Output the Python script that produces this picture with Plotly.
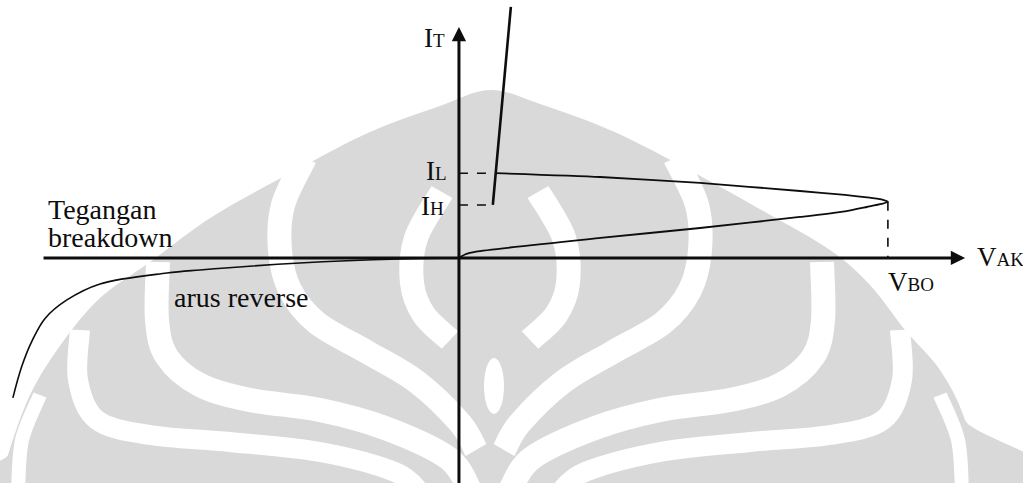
import plotly.graph_objects as go

# ---- thyristor characteristic (V in arbitrary units, I in arbitrary units) ----
V_BO = 100.0      # breakover voltage
I_L = 8.0         # latching current
I_H = 5.0         # holding current

# forward blocking: origin -> breakover
fwd_low_v = [0, 1.5, 4, 33, 56.2, 79.5, 90, 95.1, 98.5, 100]
fwd_low_i = [0, 0.35, 0.6, 1.89, 2.83, 3.87, 4.4, 4.81, 5.1, 5.3]
# negative-resistance region: breakover -> latching point
fwd_up_v = [100, 98.5, 95.1, 90, 79.5, 56.2, 32.9, 8.6]
fwd_up_i = [5.3, 5.52, 5.72, 5.95, 6.32, 7.08, 7.64, 8.0]

# on-state (conducting) branch
on_v = [7.9, 12.1]
on_i = [5.0, 23.7]

# reverse blocking with avalanche at the breakdown voltage
rev_v = [0, -13.8, -37.1, -60.4, -68.1, -83.7, -91.4, -96.5, -99.5, -101.9, -104.0]
rev_i = [0, -0.09, -0.47, -1.13, -1.42, -2.45, -3.96, -5.7, -7.8, -10.2, -13.2]

# axis extents
V_AXIS = [-97.2, 118.0]
I_AXIS = [-21.6, 21.8]
X_RANGE = [-107.0, 131.5]
Y_RANGE = [-21.23, 24.34]

W, H = 1023, 483
INK = "#0d0d0d"
WM = "#d9d9d9"
SERIF = "Liberation Serif, Times New Roman, serif"


def smooth(points, closed=False):
    """Catmull-Rom curve through pixel points, returned as an SVG path in paper units."""
    pts = [(x / W, 1 - y / H) for x, y in points]
    n = len(pts)
    if closed:
        get = lambda k: pts[k % n]
        segs = range(n)
    else:
        get = lambda k: pts[min(max(k, 0), n - 1)]
        segs = range(n - 1)
    d = "M{:.5f},{:.5f}".format(*pts[0])
    for i in segs:
        p0, p1, p2, p3 = get(i - 1), get(i), get(i + 1), get(i + 2)
        c1 = (p1[0] + (p2[0] - p0[0]) / 6, p1[1] + (p2[1] - p0[1]) / 6)
        c2 = (p2[0] - (p3[0] - p1[0]) / 6, p2[1] - (p3[1] - p1[1]) / 6)
        d += " C{:.5f},{:.5f} {:.5f},{:.5f} {:.5f},{:.5f}".format(*c1, *c2, *p2)
    if closed:
        d += " Z"
    return d


def mirror(points, axis=490):
    return [(2 * axis - x, y) for x, y in points]


# ---- background emblem (light grey, drawn beneath the curves) ----
emblem_outline = [(0, 490), (8, 455), (30, 395), (62, 343), (100, 298), (150, 262),
                  (215, 215), (300, 168), (370, 132), (440, 106), (490, 90),
                  (540, 104), (610, 130), (680, 165), (765, 212), (830, 250),
                  (870, 285), (905, 330), (940, 370), (965, 420), (980, 490)]
band_a = [(305, 158), (283, 205), (280, 250), (290, 290), (317, 323), (367, 352),
          (417, 382), (460, 423), (476, 450)]
band_ring = [(442, 192), (416, 238), (412, 283), (424, 315), (450, 340)]
band_b = [(158, 262), (157, 320), (167, 357), (200, 385), (250, 400), (320, 410),
          (385, 428), (448, 458), (470, 490)]
band_c = [(80, 330), (78, 380), (97, 420), (150, 435), (230, 442), (320, 452),
          (395, 472), (420, 492)]
band_d = [(40, 395), (22, 440), (18, 492)]

shapes = [dict(type="path", path=smooth(emblem_outline, closed=True), xref="paper",
               yref="paper", fillcolor=WM, line=dict(width=0), layer="below")]
for band, wdt in [(band_a, 24), (band_ring, 24), (band_b, 24), (band_c, 20), (band_d, 14)]:
    for b in (band, mirror(band)):
        shapes.append(dict(type="path", path=smooth(b), xref="paper", yref="paper",
                           line=dict(color="white", width=wdt), layer="below"))
shapes.append(dict(type="circle", xref="paper", yref="paper",
                   x0=484 / W, x1=504 / W, y0=1 - 414 / H, y1=1 - 358 / H,
                   fillcolor="white", line=dict(width=0), layer="below"))

fig = go.Figure()

fig.add_trace(go.Scatter(x=fwd_low_v + fwd_up_v[1:], y=fwd_low_i + fwd_up_i[1:], mode="lines",
                         line=dict(color=INK, width=1.8, shape="spline", smoothing=0.6)))
fig.add_trace(go.Scatter(x=on_v, y=on_i, mode="lines", line=dict(color=INK, width=2.6)))
fig.add_trace(go.Scatter(x=rev_v, y=rev_i, mode="lines",
                         line=dict(color=INK, width=1.6, shape="spline", smoothing=1.0)))

# guide lines to I_L, I_H and V_BO
fig.add_trace(go.Scatter(x=[0, 8.6], y=[I_L, I_L], mode="lines",
                         line=dict(color=INK, width=1.6, dash="dash")))
fig.add_trace(go.Scatter(x=[0, 7.9], y=[I_H, I_H], mode="lines",
                         line=dict(color=INK, width=1.6, dash="dash")))
fig.add_trace(go.Scatter(x=[V_BO, V_BO], y=[fwd_low_i[-1], 0], mode="lines",
                         line=dict(color=INK, width=1.6, dash="dash")))

annotations = [
    # axes with arrowheads
    dict(x=V_AXIS[1], y=0, ax=V_AXIS[0], ay=0, axref="x", ayref="y", showarrow=True,
         arrowhead=2, arrowwidth=3, arrowsize=0.95, arrowcolor=INK, text="", standoff=0),
    dict(x=0, y=I_AXIS[1], ax=0, ay=I_AXIS[0], axref="x", ayref="y", showarrow=True,
         arrowhead=2, arrowwidth=3, arrowsize=0.95, arrowcolor=INK, text="", standoff=0),
]


def label(text, x, y, xanchor="center", size=27):
    annotations.append(dict(x=x, y=y, text=text, showarrow=False, xanchor=xanchor,
                            yanchor="middle", font=dict(family=SERIF, size=size, color=INK)))


sub = "<span style='font-size:19px'>{}</span>"
label("I" + sub.format("T"), -2.8, 20.8, "right")
label("I" + sub.format("L"), -2.4, 8.2, "right")
label("I" + sub.format("H"), -3.0, 4.9, "right")
label("V" + sub.format("BO"), V_BO - 0.5, -2.3, "left")
label("V" + sub.format("AK"), 120.4, 0.1, "left")
label("Tegangan", -96.3, 4.6, "left", 28)
label("breakdown", -96.3, 1.9, "left", 28)
label("arus reverse", -50.8, -3.7, "center", 28)

fig.update_layout(
    width=W, height=H, margin=dict(l=0, r=0, t=0, b=0),
    paper_bgcolor="white", plot_bgcolor="white", showlegend=False,
    xaxis=dict(range=X_RANGE, visible=False, fixedrange=True),
    yaxis=dict(range=Y_RANGE, visible=False, fixedrange=True),
    shapes=shapes, annotations=annotations,
)

fig.write_html("out.html")
